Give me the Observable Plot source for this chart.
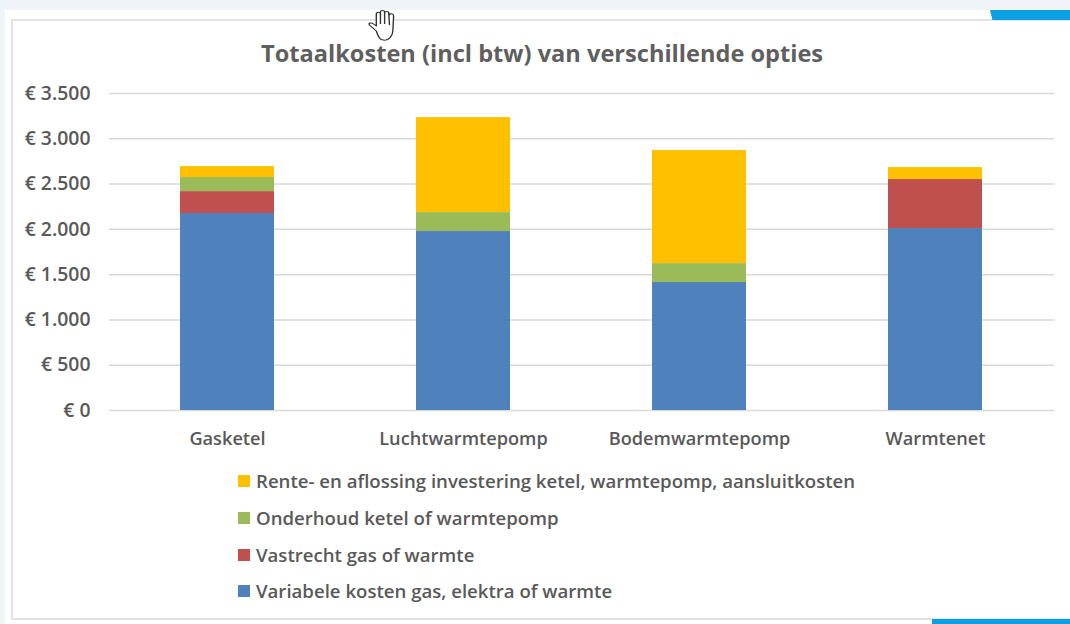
<!DOCTYPE html>
<html><head><meta charset="utf-8">
<script src="https://cdn.jsdelivr.net/npm/d3@7"></script>
<script src="https://cdn.jsdelivr.net/npm/@observablehq/plot@0.6"></script>
<style>
html,body{margin:0;padding:0;background:#fff;}
body{width:1070px;height:624px;position:relative;overflow:hidden;font-family:"Open Sans",sans-serif;color:#595959;}
.bgtop{position:absolute;left:0;top:0;width:1070px;height:10px;background:#f0f4f9;}
.bgleft{position:absolute;left:0;top:0;width:5px;height:624px;background:#f0f4f9;}
.frame{position:absolute;left:11px;top:19px;width:1070px;height:601px;border:2px solid #e3e3e3;box-sizing:border-box;}
.blue1{position:absolute;left:990px;top:10px;width:80px;height:10px;background:#0b9fe3;clip-path:polygon(0 0,100% 0,100% 100%,3% 100%);}
.blue2{position:absolute;left:932px;top:619px;width:138px;height:5px;background:#0b9fe3;}
#title{position:absolute;left:261px;top:36px;font-size:23.6px;font-weight:700;line-height:34px;color:#5f5f5f;white-space:nowrap;}
#chart{position:absolute;left:0;top:0;}
#legend{position:absolute;left:238px;top:0;}
.row{position:absolute;left:0;white-space:nowrap;font-size:18.6px;font-weight:600;line-height:24px;height:24px;color:#595959;}
.row i{position:absolute;left:0;top:6px;width:12px;height:12px;}
.row span{position:absolute;left:18px;top:0;}
#hand{position:absolute;left:368px;top:10px;}
</style></head><body>
<div class="bgtop"></div><div class="bgleft"></div><div class="frame"></div><div class="blue1"></div><div class="blue2"></div>
<div id="chart"></div>
<div id="title"></div>
<div id="legend"></div>
<svg id="hand" width="27" height="31" viewBox="1 0 19.500 31" preserveAspectRatio="none" fill="#fff" stroke="#333" stroke-width="1" stroke-linejoin="round">
<path d="M7 21 L2 15 C1 13 3 12 5 14 L7 16 L7 4 C7 1.500 10 1.500 10 4 L10 2 C10 0 13 0 13 2 L13 3 C13 1 16 1 16 3 L16.500 5 C17 3 19.500 3.500 19.500 6 L19 20 C19 26 16 31 12 30 C9 30 8 25 7 21 Z"/>
<path d="M10 4 L10 14 M13 3 L13 14 M16 3 L16.500 15" fill="none"/>
</svg>
<script>
const title = "Totaalkosten (incl btw) van verschillende opties";
const categories = ["Gasketel", "Luchtwarmtepomp", "Bodemwarmtepomp", "Warmtenet"];
const seriesNames = [
  "Variabele kosten gas, elektra of warmte",
  "Vastrecht gas of warmte",
  "Onderhoud ketel of warmtepomp",
  "Rente- en aflossing investering ketel, warmtepomp, aansluitkosten"
];
const variabele = [2175, 1976, 1413, 2009];
const vastrecht = [242, 0, 0, 541];
const onderhoud = [155, 209, 209, 0];
const rente = [121, 1049, 1248, 132];
const seriesColors = ["#4f81bd", "#c0504d", "#9bbb59", "#ffc000"];
const yTicks = [0, 500, 1000, 1500, 2000, 2500, 3000, 3500];
const legendTops = [579, 543, 506, 469];

const values = [variabele, vastrecht, onderhoud, rente];
const rows = seriesNames.flatMap((s, i) =>
  categories.map((c, j) => ({category: c, series: s, value: values[i][j]})));
const euro = d3.formatLocale({decimal: ",", thousands: ".", grouping: [3], currency: ["€ ", ""]}).format("$,.0f");

const plot = Plot.plot({
  width: 1070, height: 460,
  marginTop: 93, marginBottom: 50, marginLeft: 109, marginRight: 16,
  style: {background: "transparent", fontFamily: '"Open Sans",sans-serif', fontWeight: 600, fontSize: "18px", color: "#595959", overflow: "visible"},
  x: {domain: categories, paddingInner: 0.6, paddingOuter: 0.3, label: null, tickSize: 0},
  y: {domain: [0, 3500], ticks: yTicks, label: null},
  color: {domain: seriesNames, range: seriesColors},
  marks: [
    Plot.gridY(yTicks, {stroke: "#d9d9d9", strokeOpacity: 1, strokeWidth: 1.5}),
    Plot.barY(rows, {x: "category", y: "value", fill: "series", order: seriesNames}),
    Plot.axisY({ticks: yTicks, tickFormat: euro, tickSize: 0, tickPadding: 19, label: null, fontSize: 19.4, fill: "#595959"}),
    Plot.axisX({tickSize: 0, tickPadding: 22, label: null, fontSize: 18.2, fill: "#595959"})
  ]
});
document.getElementById("chart").append(plot);
document.getElementById("title").textContent = title;
const legend = document.getElementById("legend");
seriesNames.forEach((s, i) => {
  const r = document.createElement("div");
  r.className = "row"; r.style.top = legendTops[i] + "px";
  const sw = document.createElement("i"); sw.style.background = seriesColors[i];
  const t = document.createElement("span"); t.textContent = s;
  r.append(sw, t); legend.append(r);
});
</script>
</body></html>
